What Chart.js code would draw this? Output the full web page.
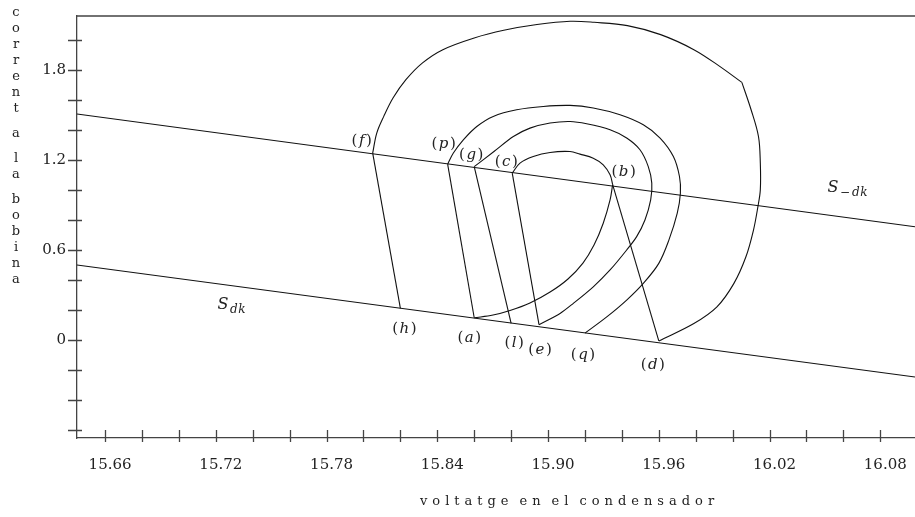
<!DOCTYPE html>
<html>
<head>
<meta charset="utf-8">
<script src="https://cdn.jsdelivr.net/npm/chart.js@4/dist/chart.umd.min.js"></script>
<style>
  html, body { margin: 0; padding: 0; background: #fff; overflow: hidden; }
  canvas { display: block; }
</style>
</head>
<body>
<canvas id="chart" width="915" height="517"></canvas>
<script>
// ========== AXES ==========
const xTicks = [15.66, 15.68, 15.70, 15.72, 15.74, 15.76, 15.78, 15.80, 15.82, 15.84, 15.86,
                15.88, 15.90, 15.92, 15.94, 15.96, 15.98, 16.00, 16.02, 16.04, 16.06, 16.08];
const xLabelled = ['15.66', '15.72', '15.78', '15.84', '15.90', '15.96', '16.02', '16.08'];
const yTicks = [-0.6, -0.4, -0.2, 0, 0.2, 0.4, 0.6, 0.8, 1.0, 1.2, 1.4, 1.6, 1.8, 2.0];
const yLabelled = ['0', '0.6', '1.2', '1.8'];
const X_RANGE = [15.6448, 16.0988];
const Y_RANGE = [-0.651, 2.157];

// ========== DATA: [voltage, current] ==========
// switching lines
const sMinusDk = [[15.6448, 1.505], [16.0988, 0.755]];
const sDk      = [[15.6448, 0.500], [16.0988, -0.245]];

// named points on the switching lines
const ptF = [15.8050, 1.245];
const ptH = [15.8200, 0.211];
const ptP = [15.8456, 1.171];
const ptA = [15.8600, 0.149];
const ptG = [15.8600, 1.155];
const ptL = [15.8800, 0.112];
const ptC = [15.8806, 1.111];
const ptE = [15.8951, 0.103];
const ptB = [15.9350, 1.035];
const ptQ = [15.9200, 0.047];
const ptD = [15.9600, -0.005];

// outer orbit f -> d (corner near the top right)
const outerUp = [ptF, [15.8072, 1.378], [15.811, 1.489], [15.816, 1.611], [15.823, 1.733], [15.832, 1.845],
  [15.843, 1.933], [15.860, 2.011], [15.876, 2.062], [15.894, 2.100], [15.912, 2.122], [15.925, 2.115],
  [15.943, 2.093], [15.961, 2.033], [15.979, 1.933], [15.993, 1.822], [16.005, 1.715]];
const outerDown = [[16.005, 1.715], [16.010, 1.533], [16.014, 1.355], [16.015, 1.178], [16.015, 1.000],
  [16.0137, 0.889], [16.0113, 0.733], [16.0072, 0.555], [16.0007, 0.378], [15.9915, 0.222], [15.979, 0.111], ptD];

// orbit p -> q
const orbitP = [ptP, [15.8487, 1.245], [15.8541, 1.333], [15.8614, 1.422], [15.8703, 1.489], [15.8830, 1.533],
  [15.8974, 1.555], [15.9119, 1.562], [15.9245, 1.545], [15.9390, 1.500], [15.9516, 1.433], [15.9607, 1.345],
  [15.9679, 1.222], [15.9712, 1.089], [15.9717, 0.978], [15.9700, 0.845], [15.9655, 0.667],
  [15.9600, 0.511], [15.9516, 0.378], [15.9426, 0.267], [15.9318, 0.155], ptQ];

// orbit g -> e
const orbitG = [ptG, [15.8707, 1.255], [15.8812, 1.355], [15.8902, 1.411], [15.9011, 1.445], [15.9119, 1.455],
  [15.9209, 1.440], [15.9336, 1.400], [15.9426, 1.345], [15.9498, 1.267], [15.9543, 1.155], [15.9562, 1.045],
  [15.9556, 0.933], [15.9525, 0.800], [15.9480, 0.689], [15.9426, 0.600], [15.9336, 0.467], [15.9245, 0.355],
  [15.9137, 0.245], [15.9065, 0.178], ptE];

// inner orbit c -> b -> a
const innerTop = [ptC, [15.8848, 1.178], [15.8920, 1.222], [15.9011, 1.249], [15.9119, 1.255], [15.9173, 1.238],
  [15.9245, 1.211], [15.9299, 1.167], [15.9336, 1.100], ptB];
const innerBottom = [ptB, [15.9336, 0.933], [15.9299, 0.778], [15.9249, 0.633], [15.9189, 0.513], [15.9108, 0.407],
  [15.9011, 0.320], [15.8902, 0.247], [15.8794, 0.197], [15.8702, 0.167], ptA];

// jumps between the two lines
const jumps = [[ptF, ptH], [ptP, ptA], [ptG, ptL], [ptC, ptE], [ptB, ptD]];

// ========== LABELS ==========
const pointLabels = [
  { pt: ptF, text: 'f', dx: -11, dy: -12 }, { pt: ptP, text: 'p', dx: -4, dy: -20 },
  { pt: ptG, text: 'g', dx: -3, dy: -11 },  { pt: ptC, text: 'c', dx: -6, dy: -11 },
  { pt: ptB, text: 'b', dx: 11, dy: -13 },  { pt: ptH, text: 'h', dx: 4, dy: 21 },
  { pt: ptA, text: 'a', dx: -5, dy: 20 },   { pt: ptL, text: 'l', dx: 3, dy: 20 },
  { pt: ptE, text: 'e', dx: 1, dy: 25 },    { pt: ptQ, text: 'q', dx: -2, dy: 22 },
  { pt: ptD, text: 'd', dx: -6, dy: 24 }
];
const lineLabels = [
  { at: [15.7239, 0.233], main: 'S', sub: ['d', 'k'] },
  { at: [16.0544, 1.011], main: 'S', sub: ['\u2212', 'd', 'k'] }
];
const Y_TITLE = 'corrent a la bobina';
const X_TITLE = 'voltatge en el condensador';

// ========== HELPERS ==========
const SERIF = '"DejaVu Serif", serif';
const toXY = arr => arr.map(([x, y]) => ({ x, y }));
const curve = (pts, tension) => ({
  data: toXY(pts), showLine: true, pointRadius: 0, borderColor: '#111',
  borderWidth: 1.1, tension, fill: false
});

const datasets = [
  curve(sMinusDk, 0), curve(sDk, 0),
  curve(outerUp, 0.35), curve(outerDown, 0.35),
  curve(orbitP, 0.35), curve(orbitG, 0.3),
  curve(innerTop, 0.35), curve(innerBottom, 0.35),
  ...jumps.map(j => curve(j, 0))
];

// ticks crossing the axes, the top frame line, titles and point names
const decorations = {
  id: 'decorations',
  afterDraw(chart) {
    const { ctx, chartArea: ca, scales: { x, y } } = chart;
    ctx.save();
    ctx.strokeStyle = '#444';
    ctx.lineWidth = 1.3;
    ctx.beginPath();
    ctx.moveTo(ca.left, ca.top); ctx.lineTo(ca.right, ca.top);
    x.ticks.forEach(t => {
      const px = Math.round(x.getPixelForValue(t.value)) + 0.5;
      ctx.moveTo(px, ca.bottom - 8); ctx.lineTo(px, ca.bottom + 4);
    });
    y.ticks.forEach(t => {
      const py = Math.round(y.getPixelForValue(t.value)) + 0.5;
      ctx.moveTo(ca.left - 9, py); ctx.lineTo(ca.left + 5, py);
    });
    ctx.stroke();

    ctx.fillStyle = '#222';
    ctx.textBaseline = 'middle';

    // vertical title, one letter per row
    ctx.textAlign = 'center';
    ctx.font = '13px ' + SERIF;
    let ty = 13;
    for (const ch of Y_TITLE) {
      if (ch === ' ') { ty += 9; continue; }
      ctx.fillText(ch, 16, ty);
      ty += 16;
    }

    // spaced-out x title
    ctx.textAlign = 'left';
    let tx = 420;
    for (const ch of X_TITLE) {
      if (ch === ' ') { tx += 6; continue; }
      ctx.fillText(ch, tx, 502);
      tx += ctx.measureText(ch).width + 5;
    }

    // (f), (p) ... names
    pointLabels.forEach(l => {
      const cx = x.getPixelForValue(l.pt[0]) + l.dx;
      const cy = y.getPixelForValue(l.pt[1]) + l.dy;
      const up = '15px ' + SERIF, it = 'italic 15px ' + SERIF;
      ctx.font = up; const wp = ctx.measureText('(').width;
      ctx.font = it; const wl = ctx.measureText(l.text).width;
      const gap = 1.5;
      let sx = cx - (wp * 2 + wl + gap * 2) / 2;
      ctx.font = up; ctx.fillText('(', sx, cy); sx += wp + gap;
      ctx.font = it; ctx.fillText(l.text, sx, cy); sx += wl + gap;
      ctx.font = up; ctx.fillText(')', sx, cy);
    });

    // S_dk and S_-dk
    lineLabels.forEach(l => {
      const lx = x.getPixelForValue(l.at[0]);
      const ly = y.getPixelForValue(l.at[1]);
      ctx.font = 'italic 16px ' + SERIF;
      const ws = ctx.measureText(l.main).width;
      ctx.fillText(l.main, lx - ws / 2, ly);
      ctx.font = 'italic 12px ' + SERIF;
      let sx = lx + ws / 2 + 1.5;
      l.sub.forEach(ch => {
        ctx.fillText(ch, sx, ly + 5);
        sx += ctx.measureText(ch).width + (ch === '\u2212' ? 2 : 0.5);
      });
    });
    ctx.restore();
  }
};

new Chart(document.getElementById('chart'), {
  type: 'scatter',
  data: { datasets },
  options: {
    responsive: false,
    animation: false,
    layout: { padding: { top: 16, right: 0, left: 0, bottom: 0 } },
    plugins: { legend: { display: false }, tooltip: { enabled: false } },
    scales: {
      x: {
        type: 'linear', min: X_RANGE[0], max: X_RANGE[1],
        afterBuildTicks: s => { s.ticks = xTicks.map(v => ({ value: v })); },
        afterFit: s => { s.height = 79; s.paddingLeft = 0; s.paddingRight = 0; },
        grid: { display: false, drawTicks: false },
        border: { display: true, color: '#444', width: 1.3 },
        ticks: {
          autoSkip: false, maxRotation: 0, padding: 18, labelOffset: 5,
          color: '#222', font: { family: SERIF, size: 15 },
          callback: v => { const s = v.toFixed(2); return xLabelled.includes(s) ? s : ''; }
        }
      },
      y: {
        type: 'linear', min: Y_RANGE[0], max: Y_RANGE[1],
        afterBuildTicks: s => { s.ticks = yTicks.map(v => ({ value: v })); },
        afterFit: s => { s.width = 77; s.paddingTop = 0; s.paddingBottom = 0; },
        grid: { display: false, drawTicks: false },
        border: { display: true, color: '#444', width: 1.3 },
        ticks: {
          autoSkip: false, padding: 11,
          color: '#222', font: { family: SERIF, size: 15 },
          callback: v => { const s = Math.abs(v) < 1e-9 ? '0' : v.toFixed(1); return yLabelled.includes(s) ? s : ''; }
        }
      }
    }
  },
  plugins: [decorations]
});
</script>
</body>
</html>
